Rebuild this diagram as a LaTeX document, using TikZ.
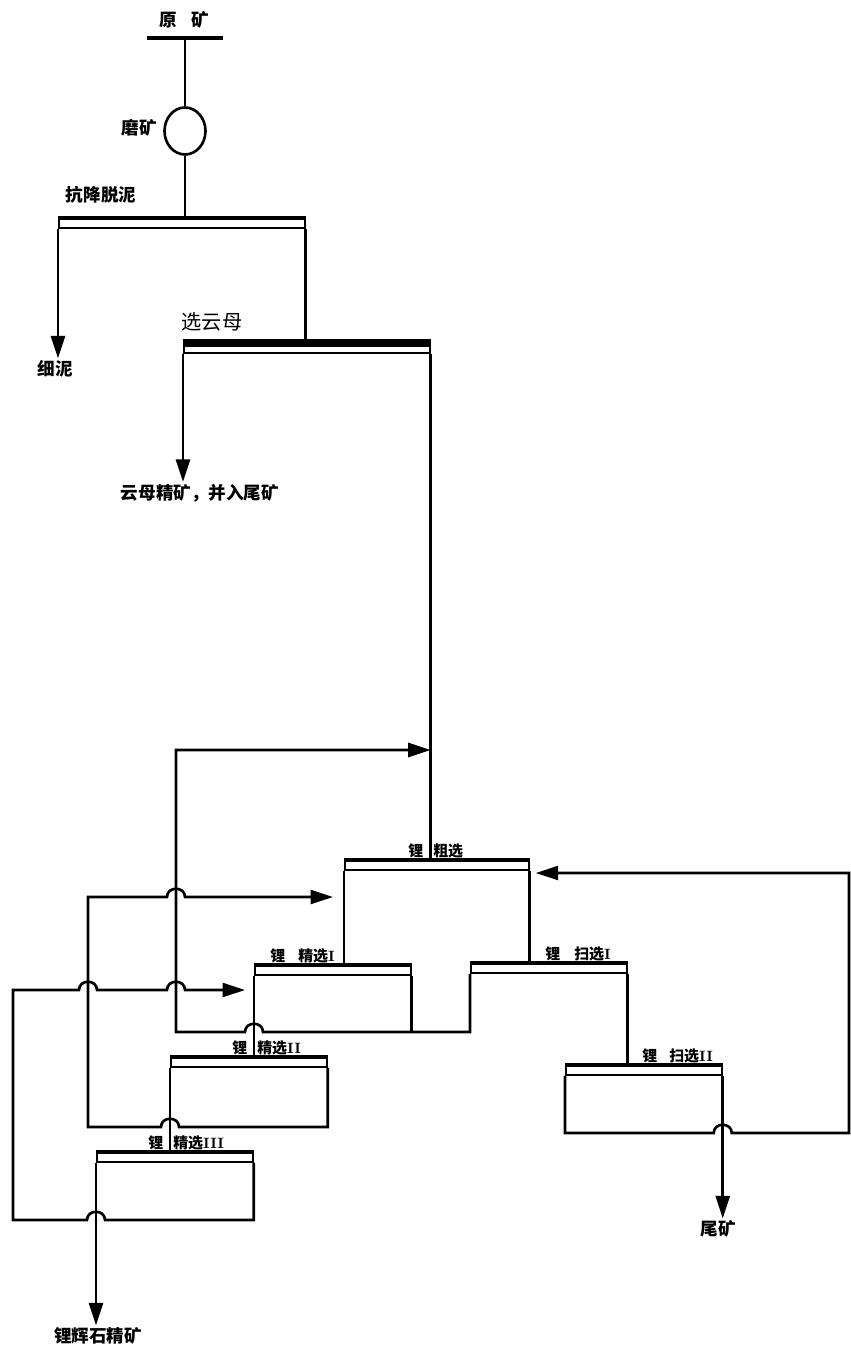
\documentclass[tikz,border=0pt]{standalone}
\usepackage{fontspec}
\newfontfamily\cjk{Noto Sans CJK SC}
\usetikzlibrary{arrows.meta,positioning,calc,shapes.geometric}

\tikzset{
  flow/.style={line width=1.5pt},
  arr/.style={flow,-{Triangle[length=4.5mm,width=2.8mm]}},
  bar/.style={draw,line width=1pt,inner sep=0pt,minimum height=0.18cm,anchor=north west},
  cell/.style={bar,minimum width=3.12cm},
  lab/.style={font=\cjk\bfseries\fontsize{10}{12}\selectfont,inner sep=1pt},
  tag/.style={font=\cjk\bfseries\fontsize{8.5}{10}\selectfont,inner sep=0pt,anchor=south west},
}

\begin{document}
\begin{tikzpicture}[x=0.02cm,y=-0.02cm]
\useasboundingbox (0,0) rectangle (851,1351);

\node[lab] (ore) at (184,20) {原\hspace{0.8em}矿};
\node[fill=black,inner sep=0pt,minimum width=1.54cm,minimum height=0.08cm] (feed) at (185,38) {};
\node[draw,ellipse,line width=1.5pt,inner sep=0pt,minimum width=0.82cm,minimum height=0.94cm] (mill) at (185,131) {};
\node[lab,anchor=east] (millt) at (159,128) {磨矿};
\node[lab] (dest) at (101,195) {抗降脱泥};
\node[bar,minimum width=4.92cm] (des) at (58,218) {};
\node[lab] (slime) at (55,369) {细泥};
\node[font=\cjk\fontsize{11.5}{13}\selectfont,inner sep=1pt] (micat) at (212,322) {选云母};
\node[bar,minimum width=4.92cm] (mica) at (183,343) {};
\node[lab] (micac) at (200,493) {云母精矿，并入尾矿};

\node[bar,minimum width=3.68cm] (rough) at (344,860) {};
\node[cell] (cl1) at (254,965) {};
\node[cell] (cl2) at (170,1057) {};
\node[cell] (cl3) at (96,1152) {};
\node[cell] (sc1) at (470,963) {};
\node[cell] (sc2) at (565,1065) {};

\node[tag] (roughl) at (408,858) {锂\hspace{0.2cm}粗选};
\node[tag] (cl1l) at (270,963) {锂\hspace{0.26cm}精选{\rmfamily I}};
\node[tag] (cl2l) at (232,1055) {锂\hspace{0.2cm}精选{\rmfamily II}};
\node[tag] (cl3l) at (148,1150) {锂\hspace{0.2cm}精选{\rmfamily III}};
\node[tag] (sc1l) at (545,961) {锂\hspace{0.28cm}扫选{\rmfamily I}};
\node[tag] (sc2l) at (642,1063) {锂\hspace{0.24cm}扫选{\rmfamily II}};

\node[lab] (tail) at (718,1229) {尾矿};
\node[lab] (spod) at (98,1336) {锂辉石精矿};

\coordinate (rcB) at (176,1032);
\coordinate (rcT) at (176,750);
\coordinate (c2B) at (88,1127);
\coordinate (c2T) at (88,897);
\coordinate (c3B) at (13,1220);
\coordinate (c3T) at (13,990);
\coordinate (s2B) at (849,1133);
\coordinate (s2T) at (849,873);

\draw[line width=4pt] (mica.north west) -- (mica.north east);
\foreach \n in {des,rough,cl1,cl2,cl3,sc1,sc2}
  \draw[line width=2.6pt] (\n.north west) -- (\n.north east);

\draw[flow] (feed) -- (mill);
\draw[flow] (mill) -- (mill |- des.north);
\draw[arr] (des.south west) -- (des.south west |- slime.north);
\draw[flow] (des.south east) -- (des.south east |- mica.north);
\draw[arr] (mica.south west) -- (mica.south west |- micac.north);
\draw[flow] (mica.south east) -- (mica.south east |- rough.north);

\foreach \a/\b in {rough.south west/cl1.north, rough.south east/sc1.north, sc1.south east/sc2.north,
                   cl1.south west/cl2.north, cl2.south west/cl3.north, cl1.south east/rcB}
  \draw[flow] (\a) -- (\a |- \b);

\draw[arr] (sc1.south west) -- (sc1.south west |- rcB)
  -- ($(cl1.south west |- rcB)+(9,0)$) .. controls +(0,-11) and +(0,-11) .. ($(cl1.south west |- rcB)+(-9,0)$)
  -- (rcB) -- (rcT) -- (rcT -| mica.south east);
\draw[arr] (sc2.south west) -- (sc2.south west |- s2B)
  -- ($(sc2.south east |- s2B)+(-9,0)$) .. controls +(0,-11) and +(0,-11) .. ($(sc2.south east |- s2B)+(9,0)$)
  -- (s2B) -- (s2T) -- ($(s2T -| rough.east)+(6,0)$);
\draw[arr] (sc2.south east) -- (sc2.south east |- tail.north);
\draw[arr] (cl2.south east) -- (cl2.south east |- c2B)
  -- ($(cl2.south west |- c2B)+(9,0)$) .. controls +(0,-11) and +(0,-11) .. ($(cl2.south west |- c2B)+(-9,0)$)
  -- (c2B) -- (c2T)
  -- ($(rcB |- c2T)+(-9,0)$) .. controls +(0,-11) and +(0,-11) .. ($(rcB |- c2T)+(9,0)$)
  -- ($(c2T -| rough.west)+(-11,0)$);
\draw[arr] (cl3.south east) -- (cl3.south east |- c3B)
  -- ($(cl3.south west |- c3B)+(9,0)$) .. controls +(0,-11) and +(0,-11) .. ($(cl3.south west |- c3B)+(-9,0)$)
  -- (c3B) -- (c3T)
  -- ($(c2B |- c3T)+(-9,0)$) .. controls +(0,-11) and +(0,-11) .. ($(c2B |- c3T)+(9,0)$)
  -- ($(rcB |- c3T)+(-9,0)$) .. controls +(0,-11) and +(0,-11) .. ($(rcB |- c3T)+(9,0)$)
  -- ($(c3T -| cl1.west)+(-9,0)$);
\draw[arr] (cl3.south west) -- (cl3.south west |- spod.north);
\end{tikzpicture}
\end{document}
